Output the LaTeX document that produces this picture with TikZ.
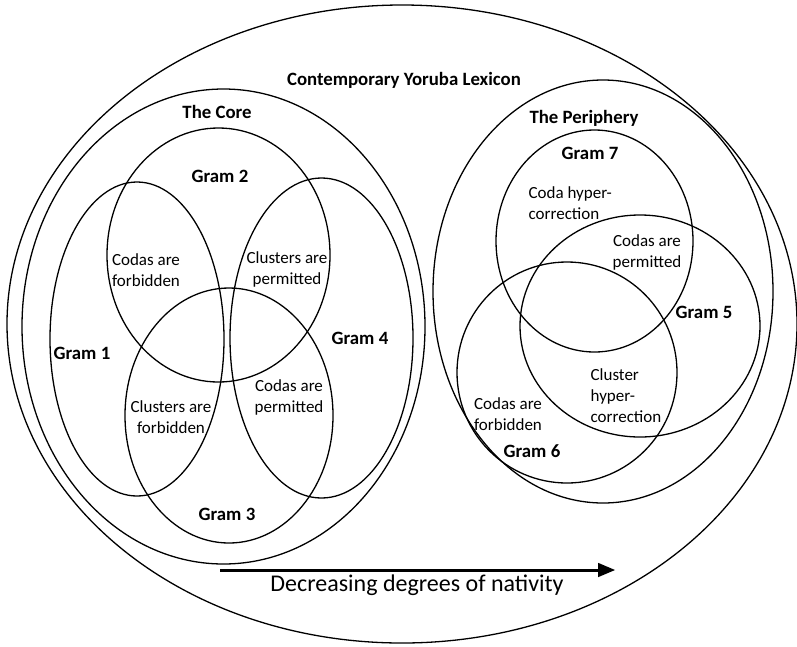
\documentclass[tikz,border=0pt]{standalone}
\usepackage{fontspec}
\setmainfont{Carlito}
\usepackage{tikz}
\usepackage{tkz-euclide}
\usetikzlibrary{arrows}
\usetikzlibrary{positioning}
\tikzset{>=triangle 45}
\colorlet{background}{white}
\colorlet{penColor}{black}

\begin{document}
\begin{tikzpicture}[x=1pt,y=-1pt,line width=1.3pt,
    head/.style={font=\fontsize{18.8}{22}\selectfont\bfseries,inner sep=0pt},
    note/.style={font=\fontsize{17}{21}\selectfont,align=center,inner sep=0pt}]
    \useasboundingbox[fill=background] (0,0) rectangle (797,646);

    \tkzDefPoint(402,324){L}
    \tkzDefPoint(223.5,326.5){C}
    \tkzDefPoint(603,291.5){P}
    \draw[penColor] (L) ellipse [x radius=395pt, y radius=319pt];
    \draw[penColor] (C) ellipse [x radius=201.5pt, y radius=237.5pt];
    \draw[penColor] (P) ellipse [x radius=170pt, y radius=211.5pt];

    % the core
    \tkzDefPoint(137,339){G1}
    \tkzDefPoint(218.5,255){G2}
    \tkzDefPoint(229,415.5){G3}
    \tkzDefPoint(321.5,338){G4}
    \draw[penColor] (G1) ellipse [x radius=87pt, y radius=157pt];
    \draw[penColor] (G2) ellipse [x radius=111.5pt, y radius=127pt];
    \draw[penColor] (G3) ellipse [x radius=104pt, y radius=127.5pt];
    \draw[penColor] (G4) ellipse [x radius=91.5pt, y radius=160pt];

    % the periphery
    \tkzDefPoint(640,326){G5}
    \tkzDefPoint(567,372.5){G6}
    \tkzDefPoint(594.5,241){G7}
    \draw[penColor] (G5) ellipse [x radius=120pt, y radius=111pt];
    \draw[penColor] (G6) ellipse [x radius=110pt, y radius=110.5pt];
    \draw[penColor] (G7) ellipse [x radius=98.5pt, y radius=111pt];

    \node[head] (lexicon) at (404,80) {Contemporary Yoruba Lexicon};
    \node[head] (core) at (217,112) {The Core};
    \node[head] (periphery) at (584,118) {The Periphery};

    \node[head] (gram1) at (82,353) {Gram 1};
    \node[head] (gram2) at (220,176) {Gram 2};
    \node[head] (gram3) at (227,514) {Gram 3};
    \node[head] (gram4) at (360,338) {Gram 4};
    \node[head] (gram5) at (704,312) {Gram 5};
    \node[head] (gram6) at (532,451) {Gram 6};
    \node[head] (gram7) at (590,153) {Gram 7};

    \node[note] (codaNo) at (146,270) {Codas are\\forbidden};
    \node[note] (clusterYes) at (287,269) {Clusters are\\permitted};
    \node[note] (clusterNo) at (171,417) {Clusters are\\forbidden};
    \node[note] (codaYes) at (289,397) {Codas are\\permitted};
    \node[note,align=left,anchor=west] (codaHyper) at (528,203) {Coda hyper-\\correction};
    \node[note] (codaYesP) at (647,252) {Codas are\\permitted};
    \node[note,align=left,anchor=west] (clusterHyper) at (590,396) {Cluster\\hyper-\\correction};
    \node[note] (codaNoP) at (508,414) {Codas are\\forbidden};

    \tkzDefPoint(220,570){S}
    \tkzDefPoint(615,570){E}
    \draw[penColor,line width=3pt,->] (S) -- (E);
    \node[font=\fontsize{24}{27}\selectfont,inner sep=0pt] (nativity) at (417,585) {Decreasing degrees of nativity};
\end{tikzpicture}
\end{document}
